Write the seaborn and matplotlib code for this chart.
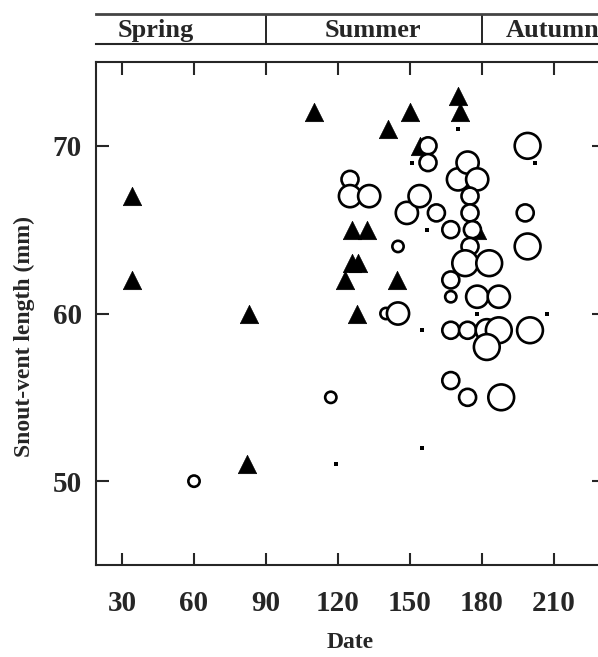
import matplotlib
matplotlib.use("Agg")
import matplotlib.pyplot as plt
import pandas as pd
import seaborn as sns

# filled triangles
tri_day = [34, 34, 82, 83, 110, 126, 132, 126, 128.5, 123, 144.6, 128, 141, 150, 154, 170, 171, 178]
tri_svl = [67, 62, 51, 60, 72, 65, 65, 63, 63, 62, 62, 60, 71, 72, 70, 73, 72, 65]

# open circles, size class 1 (smallest) .. 4 (largest)
circ_day = [60, 117, 125, 125, 133, 140, 145, 145, 148.7, 154, 157.5, 157.5, 161,
            167, 167, 167, 167, 167, 170, 174, 178, 175, 175, 176, 175, 173, 183,
            178, 187, 174, 182, 187, 182, 174, 188, 198, 199, 199, 200]
circ_svl = [50, 55, 68, 67, 67, 60, 60, 64, 66, 67, 70, 69, 66,
            65, 62, 61, 59, 56, 68, 69, 68, 67, 66, 65, 64, 63, 63,
            61, 61, 59, 59, 59, 58, 55, 55, 66, 64, 70, 59]
circ_cls = [1, 1, 2, 3, 3, 1, 3, 1, 3, 3, 2, 2, 2,
            2, 2, 1, 2, 2, 3, 3, 3, 2, 2, 2, 2, 4, 4,
            3, 3, 2, 3, 4, 4, 2, 4, 2, 4, 4, 4]

# small squares
sq_day = [151, 170, 202, 157, 155, 178, 207, 155, 119]
sq_svl = [69, 71, 69, 65, 59, 60, 60, 52, 51]

xticks = [30, 60, 90, 120, 150, 180, 210]
yticks = [50, 60, 70]
seasons = ["Spring", "Summer", "Autumn"]
season_x = [44, 134.6, 190]
season_bounds = [90, 180]

tri = pd.DataFrame({"day": tri_day, "svl": tri_svl})
circ = pd.DataFrame({"day": circ_day, "svl": circ_svl, "cls": circ_cls})
sq = pd.DataFrame({"day": sq_day, "svl": sq_svl})

sns.set_style("ticks")
plt.rcParams["font.family"] = ["Liberation Serif", "DejaVu Serif"]
plt.rcParams["font.weight"] = "bold"

W, H = 598, 657
fig = plt.figure(figsize=(W / 100, H / 100), dpi=100)
xlim = (30 - 26 / 2.4, 30 - 26 / 2.4 + 508 / 2.4)

ax = fig.add_axes([96 / W, 1 - 565 / H, 508 / W, 503 / H])
sns.scatterplot(data=tri, x="day", y="svl", marker="^", s=175, color="black",
                edgecolor="black", linewidth=0.5, ax=ax, zorder=2)
sns.scatterplot(data=circ, x="day", y="svl", size="cls",
                sizes={1: 66, 2: 150, 3: 255, 4: 345}, color="white",
                edgecolor="black", linewidth=1.9, legend=False, ax=ax, zorder=3)
sns.scatterplot(data=sq, x="day", y="svl", marker="s", s=12, color="black",
                edgecolor="black", linewidth=0, ax=ax, zorder=4)

ax.set_xlim(*xlim)
ax.set_ylim(45, 75)
ax.set_xticks(xticks)
ax.set_yticks(yticks)
ax.tick_params(direction="in", length=9, width=1.5, top=True, right=True,
               labelsize=21)
ax.tick_params(axis="x", pad=18)
ax.tick_params(axis="y", pad=10)
for lab in ax.get_xticklabels() + ax.get_yticklabels():
    lab.set_fontweight("bold")
for s in ax.spines.values():
    s.set_linewidth(1.5)
ax.set_xlabel("Date", fontsize=17, fontweight="bold", labelpad=11)
ax.set_ylabel("Snout-vent length (mm)", fontsize=17, fontweight="bold")
ax.yaxis.set_label_coords(-0.12, 0.455)

# season header
hx = fig.add_axes([96 / W, 1 - 44 / H, 508 / W, 30 / H])
hx.set_xlim(*xlim)
hx.set_ylim(0, 1)
hx.set_xticks([])
hx.set_yticks([])
hx.spines["left"].set_visible(False)
hx.spines["right"].set_visible(False)
hx.spines["top"].set_linewidth(2)
hx.spines["top"].set_color("#444444")
hx.spines["bottom"].set_linewidth(1.5)
for b in season_bounds:
    hx.axvline(b, color="black", linewidth=1.2)
for name, xpos in zip(seasons, season_x):
    ha = "left" if name == "Autumn" else "center"
    hx.text(xpos, 0.45, name, ha=ha, va="center", fontsize=19, fontweight="bold")

fig.savefig("out.png", dpi=100)
